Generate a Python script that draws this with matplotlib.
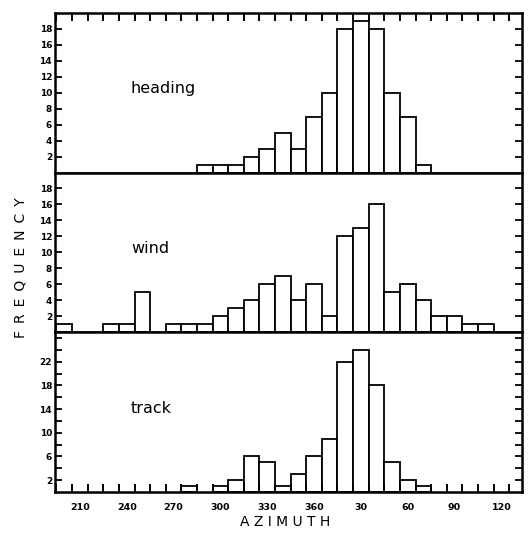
import matplotlib
matplotlib.use("Agg")
import matplotlib.pyplot as plt
from matplotlib.ticker import FixedLocator, NullFormatter

# ========= datos =========
# centros de clase (azimut "desenrollado": 370 = 10, 380 = 20, ...)
bins = [200, 210, 220, 230, 240, 250, 260, 270, 280, 290, 300, 310, 320, 330,
        340, 350, 360, 370, 380, 390, 400, 410, 420, 430, 440, 450, 460, 470]

heading = [0, 0, 0, 0, 0, 0, 0, 0, 0, 1, 1, 1, 2, 3,
           5, 3, 7, 10, 18, 19, 18, 10, 7, 1, 0, 0, 0, 0]
wind = [1, 0, 0, 1, 1, 5, 0, 1, 1, 1, 2, 3, 4, 6,
        7, 4, 6, 2, 12, 13, 16, 5, 6, 4, 2, 2, 1, 1]
track = [0, 0, 0, 0, 0, 0, 0, 0, 1, 0, 1, 2, 6, 5,
         1, 3, 6, 9, 22, 24, 18, 5, 2, 1, 0, 0, 0, 0]

panel_names = ["heading", "wind", "track"]

x_label_pos = [210, 240, 270, 300, 330, 360, 390, 420, 450, 480]
x_label_txt = ["210", "240", "270", "300", "330", "360", "30", "60", "90", "120"]
bin_edges = [195, 205, 215, 225, 235, 245, 255, 265, 275, 285, 295, 305, 315,
             325, 335, 345, 355, 365, 375, 385, 395, 405, 415, 425, 435, 445,
             455, 465, 475, 485]

y_major = [[2, 4, 6, 8, 10, 12, 14, 16, 18],
           [2, 4, 6, 8, 10, 12, 14, 16, 18],
           [2, 6, 10, 14, 18, 22]]
y_minor = [[], [], [4, 8, 12, 16, 20, 24, 26]]
y_top = [20, 20, 27]

# ========= figura =========
fig = plt.figure(figsize=(5.28, 5.33), dpi=100)
gs = fig.add_gridspec(3, 1, left=0.104, right=0.988, bottom=0.077, top=0.976,
                      hspace=0)
axes = [fig.add_subplot(gs[i]) for i in range(3)]

for i, (ax, vals) in enumerate(zip(axes, [heading, wind, track])):
    xs = [b for b, v in zip(bins, vals) if v > 0]
    hs = [v for v in vals if v > 0]
    ax.bar(xs, hs, width=10, color="white", edgecolor="black", linewidth=1.3)
    ax.set_xlim(194, 493)
    ax.set_ylim(0, y_top[i])
    for s in ax.spines.values():
        s.set_linewidth(1.8)

    ax.yaxis.set_major_locator(FixedLocator(y_major[i]))
    ax.yaxis.set_minor_locator(FixedLocator(y_minor[i]))
    ax.yaxis.set_minor_formatter(NullFormatter())
    ax.tick_params(axis="y", which="both", direction="in", left=True, right=True,
                   length=5, width=1.3, labelsize=6.5, pad=2)
    for t in ax.get_yticklabels():
        t.set_fontweight("bold")

    ax.xaxis.set_major_locator(FixedLocator(x_label_pos))
    ax.xaxis.set_minor_locator(FixedLocator(bin_edges))
    ax.tick_params(axis="x", which="major", length=0)
    ax.tick_params(axis="x", which="minor", direction="in", length=6, width=1.4,
                   top=(i == 0), bottom=(i == 2))
    if i == 2:
        ax.set_xticklabels(x_label_txt, fontsize=6.8, fontweight="bold")
        ax.tick_params(axis="x", which="major", pad=8)
    else:
        ax.tick_params(axis="x", which="major", labelbottom=False)

    ax.text(0.163, 0.525, panel_names[i], transform=ax.transAxes,
            fontsize=11.5, ha="left", va="center")

# etiquetas de ejes
fig.text(0.54, 0.02, "A Z I M U T H", fontsize=10, ha="center", va="center")
fig.text(0.038, 0.497, "F\u2002R\u2002E\u2002Q\u2002U\u2002E\u2002N\u2002C\u2002Y",
         rotation=90, fontsize=10, ha="center", va="center")

plt.savefig("out.png", dpi=100)
plt.close()
